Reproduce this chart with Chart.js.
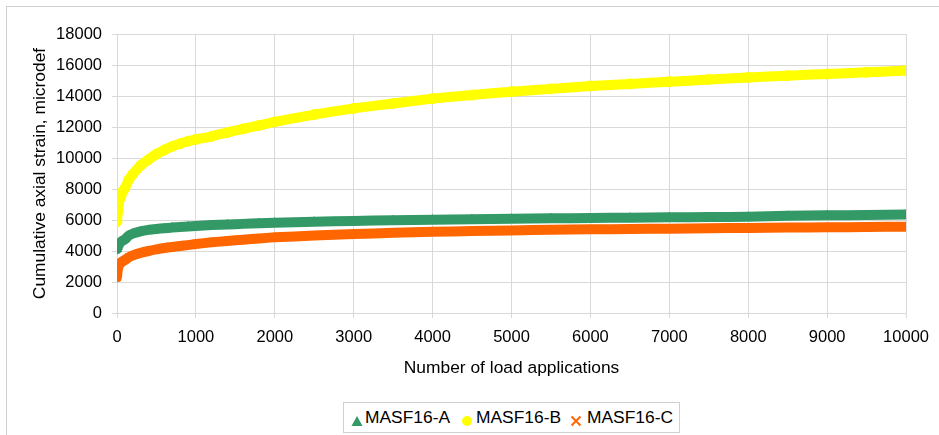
<!DOCTYPE html>
<html>
<head>
<meta charset="utf-8">
<script src="https://cdn.jsdelivr.net/npm/chart.js@4.4.1/dist/chart.umd.min.js"></script>
<style>
  html, body { margin: 0; padding: 0; background: #fff; }
  #wrap { position: relative; width: 939px; height: 435px; overflow: hidden; font-family: "Liberation Sans", Arial, sans-serif; }
  #frame { position: absolute; left: 6px; top: 6px; width: 940px; height: 440px; border-left: 1px solid #d0d0d0; border-top: 1px solid #d0d0d0; box-sizing: border-box; }
  canvas { position: absolute; left: 0; top: 0; }
  #legend { position: absolute; left: 343px; top: 402px; width: 337px; height: 31px; border: 1px solid #d0d0d0; box-sizing: border-box; background: #fff; }
  .item { position: absolute; top: 0; height: 29px; line-height: 29px; font-size: 17.4px; color: #000; white-space: nowrap; }
  .mk { position: absolute; }
</style>
</head>
<body>
<div id="wrap">
  <div id="frame"></div>
  <canvas id="c" width="939" height="435"></canvas>
  <div id="legend"></div>
</div>
<script>
// ---- data ----
const cycles = [0, 10, 20, 30, 50, 75, 100, 150, 200, 300, 400, 500, 600, 700, 800, 900, 1000,
  1200, 1400, 1600, 1800, 2000, 2500, 3000, 3500, 4000, 4500, 5000, 5500, 6000, 6500, 7000,
  7500, 8000, 8500, 9000, 9500, 10000];
const strainA = [4120, 4250, 4380, 4480, 4580, 4680, 4750, 5000, 5120, 5270, 5360, 5420, 5470, 5510, 5550, 5580, 5610,
  5670, 5710, 5750, 5790, 5830, 5890, 5940, 5985, 6020, 6050, 6080, 6110, 6130, 6150, 6170,
  6190, 6210, 6270, 6300, 6320, 6350];
const strainB = [5900, 6550, 7000, 7300, 7550, 7850, 8050, 8600, 8950, 9520, 9900, 10250, 10520, 10750, 10920, 11080, 11200,
  11400, 11650, 11880, 12100, 12330, 12800, 13200, 13520, 13830, 14060, 14280, 14460, 14640, 14780, 14920,
  15060, 15200, 15310, 15420, 15530, 15640];
const strainC = [2300, 2800, 3000, 3150, 3250, 3350, 3420, 3600, 3720, 3880, 4000, 4100, 4190, 4260, 4320, 4380, 4450,
  4560, 4650, 4730, 4810, 4880, 5000, 5090, 5170, 5235, 5290, 5330, 5370, 5400, 5420, 5440,
  5470, 5490, 5510, 5530, 5550, 5570];
const seriesNames = ["MASF16-A", "MASF16-B", "MASF16-C"];
const xTicks = [0, 1000, 2000, 3000, 4000, 5000, 6000, 7000, 8000, 9000, 10000];
const yTicks = [0, 2000, 4000, 6000, 8000, 10000, 12000, 14000, 16000, 18000];
const xTitle = "Number of load applications";
const yTitle = "Cumulative axial strain, microdef";

const colors = ["#339966", "#FFFF00", "#FF6600"];
const styles = ["triangle", "circle", "crossRot"];

function pts(ys) { return cycles.map((x, i) => ({ x: x, y: ys[i] })); }

const datasets = [strainA, strainB, strainC].map((ys, i) => ({
  label: seriesNames[i],
  data: pts(ys),
  showLine: true,
  borderColor: colors[i],
  backgroundColor: colors[i],
  borderWidth: 10,
  borderCapStyle: 'round',
  borderJoinStyle: 'round',
  tension: 0.2,
  pointStyle: styles[i],
  pointRadius: 5,
  pointBorderWidth: i === 2 ? 2.5 : 1,
  pointBorderColor: colors[i],
  pointBackgroundColor: colors[i]
}));

const tickFont = { family: "'Liberation Sans', Arial, sans-serif", size: 16.5 };
const titleFont = { family: "'Liberation Sans', Arial, sans-serif", size: 17.4 };
const gridCol = '#d9d9d9';
const plain = (v) => String(v);

new Chart(document.getElementById('c'), {
  type: 'scatter',
  data: { datasets: datasets },
  options: {
    responsive: false,
    animation: false,
    devicePixelRatio: 1,
    layout: { padding: { left: 30, top: 34, right: 31, bottom: 56 } },
    plugins: { legend: { display: false }, tooltip: { enabled: false } },
    scales: {
      x: {
        type: 'linear', min: 0, max: 10000,
        afterBuildTicks: (s) => { s.ticks = xTicks.map(v => ({ value: v })); },
        afterFit: (s) => { s.height = 66; },
        ticks: { font: tickFont, color: '#000', padding: 10, maxRotation: 0, callback: plain },
        grid: { color: gridCol, tickLength: 5, lineWidth: 1 },
        border: { color: gridCol },
        title: { display: true, text: xTitle, font: titleFont, color: '#000', padding: 0 }
      },
      y: {
        type: 'linear', min: 0, max: 18000,
        afterBuildTicks: (s) => { s.ticks = yTicks.map(v => ({ value: v })); },
        afterFit: (s) => { s.width = 87; },
        ticks: { font: tickFont, color: '#000', padding: 10, callback: plain },
        grid: { color: gridCol, tickLength: 5, lineWidth: 1 },
        border: { color: gridCol },
        title: { display: true, text: yTitle, font: titleFont, color: '#000', padding: 0 }
      }
    }
  }
});

// HTML legend (real text)
const legend = document.getElementById('legend');
const itemPos = [{ mk: 13, tx: 21 }, { mk: 123, tx: 132 }, { mk: 232, tx: 243 }];
const markerSvg = [
  '<svg width="12" height="12" viewBox="0 0 12 12"><polygon points="6,1 11.5,11 0.5,11" fill="#339966"/></svg>',
  '<svg width="12" height="12" viewBox="0 0 12 12"><circle cx="6" cy="6" r="5" fill="#FFFF00"/></svg>',
  '<svg width="12" height="12" viewBox="0 0 12 12"><path d="M1.5,1.5 L10.5,10.5 M10.5,1.5 L1.5,10.5" stroke="#FF6600" stroke-width="2"/></svg>'
];
seriesNames.forEach((name, i) => {
  const m = document.createElement('div');
  m.className = 'mk';
  m.style.left = (itemPos[i].mk - 6) + 'px';
  m.style.top = '10px';
  m.innerHTML = markerSvg[i];
  legend.appendChild(m);
  const t = document.createElement('div');
  t.className = 'item';
  t.style.left = itemPos[i].tx + 'px';
  t.textContent = name;
  legend.appendChild(t);
});
</script>
</body>
</html>
